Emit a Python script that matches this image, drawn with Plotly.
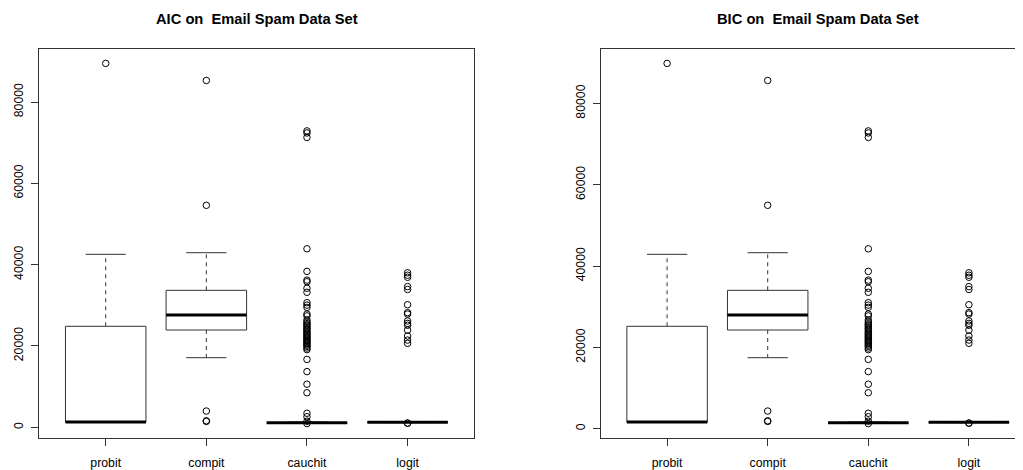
import plotly.graph_objects as go

categories = ["probit", "compit", "cauchit", "logit"]

# AIC panel statistics (lower whisker, Q1, median, Q3, upper whisker) and outliers
aic_lo = [1200, 17120, 1000, 1150]
aic_q1 = [1250, 23930, 1040, 1200]
aic_med = [1330, 27610, 1100, 1240]
aic_q3 = [24840, 33690, 1160, 1290]
aic_hi = [42540, 42940, 1300, 1400]
aic_out_probit = [89500]
aic_out_compit = [85300, 54600, 4000, 1600, 1450]
aic_out_cauchit = [72900, 72400, 71300, 43900, 38350, 36200, 35800, 34200, 33200, 30650,
                   30050, 29500, 27850, 27400, 26400, 25900, 25500, 25200, 24900, 24500,
                   24200, 23900, 23500, 23200, 22900, 22600, 22300, 22000, 21700, 21400,
                   21100, 20800, 20500, 20200, 19900, 19500, 19100, 16700, 13700, 10600,
                   8500, 3450, 2600, 1500, 912]
aic_out_logit = [38000, 37400, 36900, 34600, 33900, 30150, 28200, 27850, 26150, 25550,
                 25100, 23900, 22450, 21450, 20650, 1050, 1000]

# BIC panel
bic_lo = [1540, 17460, 1340, 1490]
bic_q1 = [1590, 24270, 1380, 1540]
bic_med = [1670, 27950, 1440, 1580]
bic_q3 = [25180, 34030, 1500, 1630]
bic_hi = [42880, 43280, 1640, 1740]
bic_out_probit = [89840]
bic_out_compit = [85640, 54940, 4340, 1940, 1790]
bic_out_cauchit = [73240, 72740, 71640, 44240, 38690, 36540, 36140, 34540, 33540, 30990,
                   30390, 29840, 28190, 27740, 26740, 26240, 25840, 25540, 25240, 24840,
                   24540, 24240, 23840, 23540, 23240, 22940, 22640, 22340, 22040, 21740,
                   21440, 21140, 20840, 20540, 20240, 19840, 19440, 17040, 14040, 10940,
                   8840, 3790, 2940, 1840, 1252]
bic_out_logit = [38340, 37740, 37240, 34940, 34240, 30490, 28540, 28190, 26490, 25890,
                 25440, 24240, 22790, 21790, 20990, 1390, 1340]

y_ticks = [0, 20000, 40000, 60000, 80000]
titles = ["AIC on  Email Spam Data Set", "BIC on  Email Spam Data Set"]

FONT = "Liberation Sans, Arial, Helvetica, sans-serif"
LINE = "#333333"
OFF = 8  # page body margin in the browser
W = 1023 - OFF
H = 470 - OFF

panels = [
    (aic_lo, aic_q1, aic_med, aic_q3, aic_hi,
     [aic_out_probit, aic_out_compit, aic_out_cauchit, aic_out_logit]),
    (bic_lo, bic_q1, bic_med, bic_q3, bic_hi,
     [bic_out_probit, bic_out_compit, bic_out_cauchit, bic_out_logit]),
]

fig = go.Figure()
boxwex = 0.8
staple = 0.4

for p, (lo, q1, med, q3, hi, outs) in enumerate(panels):
    xa = "x" if p == 0 else "x2"
    ya = "y" if p == 0 else "y2"
    bx, by, mx, my, wx, wy, sx, sy, ox, oy = [], [], [], [], [], [], [], [], [], []
    for i in range(len(categories)):
        c = i + 1
        l, r = c - boxwex / 2, c + boxwex / 2
        bx += [l, r, r, l, l, None]
        by += [q1[i], q1[i], q3[i], q3[i], q1[i], None]
        mx += [l, r, None]
        my += [med[i], med[i], None]
        wx += [c, c, None, c, c, None]
        wy += [q3[i], hi[i], None, q1[i], lo[i], None]
        sx += [c - staple / 2, c + staple / 2, None, c - staple / 2, c + staple / 2, None]
        sy += [hi[i], hi[i], None, lo[i], lo[i], None]
        ox += [c] * len(outs[i])
        oy += outs[i]
    fig.add_trace(go.Scatter(x=wx, y=wy, mode="lines", xaxis=xa, yaxis=ya,
                             line=dict(color=LINE, width=1, dash="4px,4px"),
                             hoverinfo="skip", showlegend=False))
    fig.add_trace(go.Scatter(x=sx, y=sy, mode="lines", xaxis=xa, yaxis=ya,
                             line=dict(color=LINE, width=1),
                             hoverinfo="skip", showlegend=False))
    fig.add_trace(go.Scatter(x=bx, y=by, mode="lines", xaxis=xa, yaxis=ya,
                             fill="toself", fillcolor="white",
                             line=dict(color=LINE, width=1),
                             hoverinfo="skip", showlegend=False))
    fig.add_trace(go.Scatter(x=mx, y=my, mode="lines", xaxis=xa, yaxis=ya,
                             line=dict(color="black", width=3),
                             hoverinfo="skip", showlegend=False))
    fig.add_trace(go.Scatter(x=ox, y=oy, mode="markers", xaxis=xa, yaxis=ya,
                             marker=dict(symbol="circle-open", size=6.5,
                                         color="black", line=dict(width=1)),
                             showlegend=False))

def yrange(lo, outs, hi):
    vals = list(lo) + list(hi) + [v for o in outs for v in o]
    mn, mx = min(vals), max(vals)
    pad = (mx - mn) * 0.04
    return [mn - pad, mx + pad]

# geometry (viewport pixels, converted to figure pixels by subtracting OFF)
px_per_unit = 100.6
left_l, left_r = 39.3 - OFF, 474.0 - OFF
right_l = 600.7 - OFF
top, bottom = 49.0 - OFF, 438.0 - OFF
ydom = [1 - bottom / H, 1 - top / H]

axis_common = dict(showgrid=False, zeroline=False, showline=True, linecolor=LINE,
                   linewidth=1, ticks="outside", ticklen=7, tickcolor=LINE,
                   tickfont=dict(family=FONT, size=12.3, color="black"))

xl = dict(axis_common, domain=[left_l / W, left_r / W], range=[0.34, 4.66],
          tickvals=[1, 2, 3, 4], ticktext=categories, mirror=True, anchor="y",
          ticklabelstandoff=6)
xr = dict(axis_common, domain=[right_l / W, 1.0],
          range=[0.34, 0.34 + (W - right_l) / px_per_unit],
          tickvals=[1, 2, 3, 4], ticktext=categories, mirror=True, anchor="y2",
          ticklabelstandoff=6)
yl = dict(axis_common, domain=ydom, range=yrange(aic_lo, panels[0][5], aic_hi),
          tickvals=y_ticks, ticktext=[str(v) for v in y_ticks], tickangle=-90,
          mirror=True, anchor="x", ticklabelstandoff=3)
yr = dict(axis_common, domain=ydom, range=yrange(bic_lo, panels[1][5], bic_hi),
          tickvals=y_ticks, ticktext=[str(v) for v in y_ticks], tickangle=-90,
          mirror=False, anchor="x2", ticklabelstandoff=3)

annotations = [
    dict(text="<b>%s</b>" % titles[0], x=(left_l + left_r) / 2 / W, y=1 - (19 - OFF) / H,
         xref="paper", yref="paper", xanchor="center", yanchor="middle",
         showarrow=False, font=dict(family=FONT, size=14.7, color="black")),
    dict(text="<b>%s</b>" % titles[1], x=(right_l + right_l + 4.32 * px_per_unit) / 2 / W,
         y=1 - (19 - OFF) / H, xref="paper", yref="paper", xanchor="center",
         yanchor="middle", showarrow=False,
         font=dict(family=FONT, size=14.7, color="black")),
]

fig.update_layout(
    width=W, height=H,
    margin=dict(l=0, r=0, t=0, b=0),
    paper_bgcolor="white", plot_bgcolor="white",
    xaxis=xl, yaxis=yl, xaxis2=xr, yaxis2=yr,
    annotations=annotations,
    showlegend=False,
)

fig.write_html("out.html")
